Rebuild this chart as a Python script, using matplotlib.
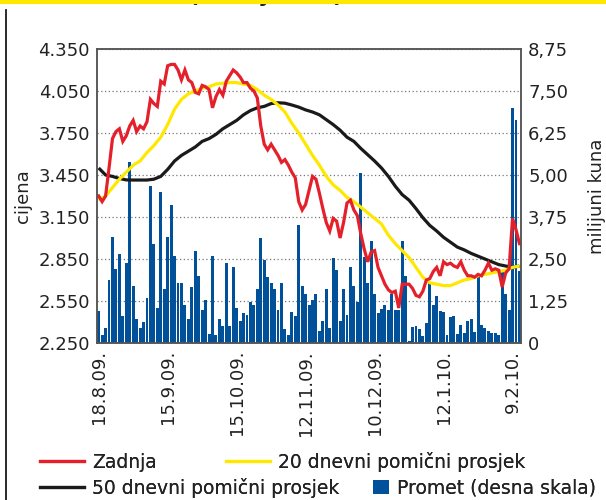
import numpy as np
import matplotlib.pyplot as plt
from matplotlib.lines import Line2D
from matplotlib.patches import Patch

# ---------------- data ----------------
zadnja = [3.30, 3.26, 3.30, 3.50, 3.71, 3.76, 3.78, 3.69, 3.73, 3.80,
          3.84, 3.76, 3.80, 3.78, 3.83, 3.99, 3.96, 3.94, 4.12, 4.10,
          4.23, 4.24, 4.24, 4.20, 4.13, 4.20, 4.13, 4.11, 4.04, 4.03,
          4.09, 4.08, 4.06, 3.93, 4.01, 4.06, 4.02, 4.12, 4.16, 4.20,
          4.18, 4.15, 4.11, 4.11, 4.07, 4.05, 4.00, 3.80, 3.67, 3.63,
          3.67, 3.63, 3.59, 3.54, 3.56, 3.52, 3.47, 3.43, 3.26, 3.20,
          3.24, 3.34, 3.44, 3.42, 3.32, 3.21, 3.11, 3.05, 3.14, 3.12,
          3.00, 3.11, 3.25, 3.27, 3.20, 3.16, 3.03, 2.92, 2.83, 2.90,
          2.91, 2.79, 2.73, 2.67, 2.63, 2.61, 2.62, 2.50, 2.67, 2.67,
          2.67, 2.64, 2.59, 2.58, 2.62, 2.70, 2.71, 2.76, 2.79, 2.73,
          2.83, 2.81, 2.82, 2.80, 2.79, 2.83, 2.77, 2.73, 2.73, 2.72,
          2.74, 2.73, 2.77, 2.82, 2.77, 2.78, 2.77, 2.65, 2.75, 2.78,
          3.14, 3.06, 2.96]

promet = [0.96, 0.24, 0.44, 1.87, 3.15, 2.21, 2.64, 0.80, 2.37, 5.40,
          1.71, 0.71, 0.44, 0.62, 1.35, 4.66, 2.95, 1.05, 4.49, 1.61,
          3.15, 4.11, 2.60, 1.79, 1.79, 1.13, 0.71, 1.66, 2.73, 2.00,
          0.97, 1.28, 0.28, 2.60, 0.24, 0.71, 0.51, 2.38, 0.51, 2.26,
          1.05, 0.66, 0.88, 0.83, 1.22, 1.13, 1.61, 3.12, 2.47, 1.95,
          1.79, 1.61, 0.97, 1.79, 0.41, 0.24, 0.92, 0.80, 3.51, 1.70,
          1.45, 1.13, 1.28, 1.45, 0.36, 0.65, 1.60, 0.45, 2.52, 2.16,
          0.65, 1.60, 0.83, 2.25, 1.70, 1.22, 5.05, 2.55, 1.80, 3.04,
          1.45, 0.88, 1.01, 1.13, 0.98, 1.45, 0.98, 0.98, 3.04, 2.00,
          0.07, 0.49, 0.50, 0.41, 0.20, 0.59, 1.82, 1.13, 1.40, 0.95,
          0.91, 0.24, 0.78, 0.80, 0.26, 0.54, 0.29, 0.66, 0.71, 0.34,
          1.97, 0.54, 0.44, 0.36, 0.29, 0.29, 0.24, 2.10, 1.45, 0.97,
          7.00, 6.65, 2.15]

# moving averages, sampled every second trading day
ma_dani = list(range(0, 123, 2))
ma20 = [3.27, 3.30, 3.36, 3.42, 3.47, 3.52, 3.55, 3.61, 3.66, 3.72,
        3.81, 3.92, 3.99, 4.03, 4.05, 4.07, 4.08, 4.10, 4.105, 4.11,
        4.11, 4.10, 4.09, 4.06, 4.02, 3.99, 3.95, 3.90, 3.82, 3.75,
        3.67, 3.59, 3.52, 3.44, 3.38, 3.34, 3.29, 3.26, 3.22, 3.18,
        3.14, 3.10, 3.02, 2.96, 2.91, 2.86, 2.79, 2.72, 2.68, 2.67,
        2.66, 2.66, 2.68, 2.70, 2.71, 2.73, 2.74, 2.75, 2.76, 2.77,
        2.79, 2.80]
ma50 = [3.50, 3.45, 3.44, 3.425, 3.415, 3.414, 3.414, 3.414, 3.42, 3.44,
        3.49, 3.55, 3.59, 3.62, 3.65, 3.69, 3.71, 3.74, 3.78, 3.81,
        3.84, 3.88, 3.91, 3.93, 3.94, 3.96, 3.966, 3.963, 3.95, 3.935,
        3.915, 3.90, 3.88, 3.845, 3.81, 3.77, 3.72, 3.69, 3.64, 3.595,
        3.55, 3.50, 3.44, 3.37, 3.31, 3.27, 3.21, 3.145, 3.09, 3.05,
        3.005, 2.97, 2.935, 2.915, 2.89, 2.87, 2.85, 2.83, 2.81, 2.80,
        2.79, 2.80]

datumi_pos = [0, 20, 40, 60, 80, 100, 120]
datumi = ['18.8.09.', '15.9.09.', '15.10.09.', '12.11.09.',
          '10.12.09.', '12.1.10.', '9.2.10.']
cijena_ticks = [2.25, 2.55, 2.85, 3.15, 3.45, 3.75, 4.05, 4.35]
cijena_lab = ['2.250', '2.550', '2.850', '3.150', '3.450', '3.750', '4.050', '4.350']
promet_ticks = [0, 1.25, 2.5, 3.75, 5.0, 6.25, 7.5, 8.75]
promet_lab = ['0', '1,25', '2,50', '3,75', '5,00', '6,25', '7,50', '8,75']

# ---------------- style ----------------
CRVENA = '#e4212b'
ZUTA = '#ffe800'
CRNA = '#1a1a1a'
PLAVA = '#00509a'
TEKST = '#222222'
FS = 13

plt.rcParams['font.family'] = ['DejaVu Sans']

fig = plt.figure(figsize=(6.06, 5.00), dpi=100)
ax = fig.add_axes([0.160, 0.314, 0.700, 0.588])
ax2 = ax.twinx()
# promet ispod linija
ax.set_zorder(2)
ax2.set_zorder(1)
ax.patch.set_visible(False)

x = np.arange(len(zadnja))
ax2.bar(x, promet, width=0.85, color=PLAVA, linewidth=0)
ax2.set_ylim(0, 8.75)
ax2.set_yticks(promet_ticks)
ax2.set_yticklabels(promet_lab, fontsize=FS, color=TEKST)
ax2.grid(True, linestyle=(0, (1, 2)), color='#777777', linewidth=0.9)
ax2.set_axisbelow(True)
ax2.set_ylabel('milijuni kuna', fontsize=FS, color=TEKST, labelpad=14)

ax.plot(ma_dani, ma50, color=CRNA, linewidth=2.3, solid_capstyle='butt')
ax.plot(ma_dani, ma20, color=ZUTA, linewidth=2.3, solid_capstyle='butt')
ax.plot(x, zadnja, color=CRVENA, linewidth=2.3, solid_joinstyle='miter')
ax.set_ylim(2.25, 4.35)
ax.set_xlim(-0.5, len(zadnja) - 0.5)
ax.set_yticks(cijena_ticks)
ax.set_yticklabels(cijena_lab, fontsize=FS, color=TEKST)
ax.set_xticks(datumi_pos)
ax.set_xticklabels(datumi, rotation=90, fontsize=FS, color=TEKST)
ax.set_ylabel('cijena', fontsize=FS, color=TEKST, labelpad=5)

for a in (ax, ax2):
    a.tick_params(length=0, pad=5)
    for s in a.spines.values():
        s.set_color('#555555')
        s.set_linewidth(1.1)

# okvir i naslov (odrezan na vrhu, vide se samo donji dijelovi slova)
fig.add_artist(Line2D([0, 1], [0.997, 0.997], color=ZUTA, linewidth=3,
                      transform=fig.transFigure, zorder=5))
fig.add_artist(Line2D([6 / 606, 6 / 606], [0, 0.98], color=CRNA, linewidth=1.3,
                      transform=fig.transFigure))
fig.text(266 / 606, 1 - 2 / 500, '(12 mjeseci)', fontsize=16, fontweight='bold',
         ha='center', va='baseline', color=CRNA, zorder=1)

# legenda: svaka stavka posebno, kao na slici
LFS = 13.5
stavke = [
    (Line2D([], [], color=CRVENA, linewidth=2.3), 'Zadnja', 40, 462, 2.35),
    (Line2D([], [], color=ZUTA, linewidth=2.3), '20 dnevni pomični prosjek', 226, 462, 2.35),
    (Line2D([], [], color=CRNA, linewidth=2.3), '50 dnevni pomični prosjek', 40, 488, 2.35),
    (Patch(facecolor=PLAVA, edgecolor='none'), 'Promet (desna skala)', 373, 488, 0.85),
]
for handle, tekst, px, py, hl in stavke:
    leg = fig.legend([handle], [tekst], loc='center left',
                     bbox_to_anchor=(px / 606, 1 - py / 500), frameon=False,
                     prop={'size': LFS},
                     handlelength=hl, handleheight=0.85, handletextpad=0.45,
                     borderpad=0, borderaxespad=0)
    for t in leg.get_texts():
        t.set_color(TEKST)
    fig.add_artist(leg)

fig.savefig('out.png', dpi=100)
